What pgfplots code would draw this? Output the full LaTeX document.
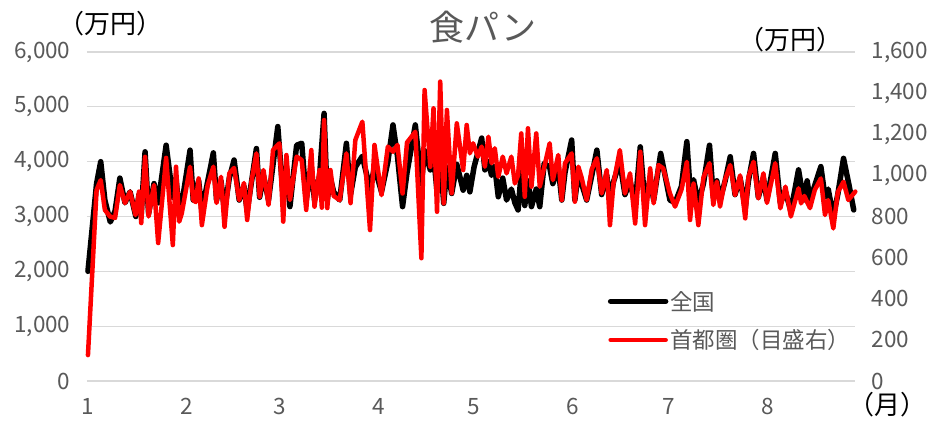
\documentclass[border=0pt]{standalone}
\usepackage{fontspec}
\setmainfont{Noto Sans CJK JP}
\usepackage{pgfplots}
\pgfplotsset{compat=1.18}
\definecolor{txtgray}{HTML}{595959}
\definecolor{gridgray}{HTML}{D9D9D9}
\definecolor{xlred}{HTML}{FF0000}

\pgfplotsset{
  common/.style={
    at={(0,0)}, anchor=south west,
    scale only axis, width=768bp, height=329bp,
    xmin=-0.3, xmax=240.4, ymin=0,
    axis line style={draw=none},
    major tick length=0pt,
    clip=false,
    scaled y ticks=false,
    /pgf/number format/assume math mode=true,
    /pgf/number format/.cd, fixed, precision=0, 1000 sep={,},
  },
}

\begin{document}
\begin{tikzpicture}
\begin{axis}[common,
  ymax=6000,
  axis y line*=left, axis x line*=bottom,
  xtick={0,31,60,91,121,152,182,213}, xticklabels={1,2,3,4,5,6,7,8},
  ytick={0,1000,...,6000},
  ymajorgrids, grid style={gridgray, line width=1.3bp},
  ticklabel style={font=\fontsize{22.5bp}{26bp}\selectfont, text=txtgray},
  xticklabel style={yshift=-14bp},
  yticklabel style={xshift=-13bp},
]
\addplot[black, line width=5.5bp, line join=round, line cap=round] coordinates {
(0,2000)(2.7,3600)(4,4000)(5.3,3300)(7,2900)(8.5,3100)(10,3700)(11.6,3250)(13.2,3450)(15,3000)(16,3400)(16.7,3050)(17.9,4180)(19,3050)(20.7,3600)(22,3250)(24.5,4300)(26.6,3350)(27.6,3700)(28.6,3100)(29.6,3300)(32,4210)(33,3300)(34.7,3650)(35.7,3100)(39.3,4160)(40.3,3300)(41.7,3650)(42.8,3100)(44.3,3700)(45.8,4030)(47.4,3300)(48.9,3550)(49.9,3100)(52.8,4240)(53.8,3350)(55,3750)(56.6,3300)(59.5,4640)(61.2,3350)(62.2,3900)(63.3,3180)(65.4,4300)(67,4335)(68.4,3300)(70,3900)(71,3300)(72.6,3750)(74,4880)(75,3300)(76,3700)(77,3450)(78.9,3300)(81,4335)(82.3,3400)(83.8,3900)(86,4100)(88.4,3500)(89.8,3900)(92,3450)(94,4000)(95.6,4670)(97,4100)(98.6,3180)(100,3800)(102.6,4670)(104.5,3600)(105.5,4200)(107.3,3850)(108.3,4150)(109.4,3450)(110.4,4100)(111.5,3240)(112.5,3900)(114,3420)(115.6,3950)(117.6,3480)(118.7,3750)(119.7,3450)(121,3900)(123.4,4430)(124.4,3850)(125.5,4000)(126.5,3750)(127.5,3910)(128.6,3360)(130,3700)(131.2,3300)(132.7,3500)(133.8,3250)(134.8,3120)(135.8,3800)(136.9,3200)(137.9,3650)(139,3180)(140.5,3500)(141.6,3180)(143,3970)(144.7,3900)(145.7,3600)(147.4,3900)(148.5,3300)(149.5,3800)(151.6,4395)(152.6,3300)(153.7,3800)(154.7,3600)(156.3,3300)(157.9,3750)(159.5,4210)(161,3400)(162.6,3750)(163.6,3250)(164.7,3630)(166.7,4000)(168.3,3400)(169.9,3650)(171.5,3200)(173.1,4270)(174.6,3200)(176.2,3700)(177.3,3300)(179.5,4150)(182.4,3300)(184,3250)(186,3550)(187.7,4365)(188.7,3500)(189.8,3670)(191.3,3250)(192.9,3600)(194.8,4300)(196,3350)(197.1,3650)(198.1,3300)(199.7,3650)(201.3,4090)(202.8,3400)(204.4,3700)(206,3150)(207,3650)(208.6,4150)(210.1,3350)(211.7,3700)(212.8,3300)(215.4,4150)(217,3250)(218.6,3450)(220.3,3100)(222.7,3850)(224.3,3300)(225.4,3650)(226.3,3300)(229.7,3910)(231,3360)(232,3500)(233.6,3000)(235,3400)(236.8,4060)(238.5,3580)(240,3120)
};
\end{axis}

\begin{axis}[common,
  ymax=1600,
  axis y line*=right, axis x line=none,
  ytick={0,200,...,1600},
  yticklabel style={font=\fontsize{22.5bp}{26bp}\selectfont, text=txtgray, xshift=13bp},
  legend style={at={(0.678,0.28)}, anchor=north west, draw=none, fill=none,
    font=\fontsize{22.5bp}{26bp}\selectfont, text=txtgray, inner sep=0pt,
    row sep=14bp, nodes={inner sep=2bp}},
  legend cell align=left,
  legend image code/.code={\draw[#1] (0bp,0bp) -- (55bp,0bp);},
]
\addlegendimage{black, line width=5.5bp, line cap=round}
\addplot[xlred, line width=4.5bp, line join=round, line cap=round] coordinates {
(0,126)(2.7,929)(4,977)(5.3,832)(6.9,800)(8.5,793)(10,953)(11.6,865)(13.2,921)(14.9,807)(16,921)(16.7,768)(17.9,1090)(19,800)(20.7,953)(22,671)(24.5,1085)(26.6,661)(27.6,1042)(28.6,775)(29.4,815)(32,1042)(33,880)(33.8,870)(34.7,985)(35.7,758)(37.5,950)(39.3,1042)(40.3,866)(41.7,993)(42.8,750)(44.3,1010)(45.8,1036)(47.4,880)(48.9,963)(49.9,783)(51.3,977)(52.8,1107)(53.8,896)(55,1026)(56.6,856)(58,1123)(60,1156)(61.2,775)(62.2,1099)(63.3,880)(65.4,1091)(67,1075)(68.4,832)(70,1123)(71,848)(72.6,1026)(73.3,843)(74,1269)(75,841)(76,1026)(77,900)(78.9,880)(81,1107)(82.3,865)(83.8,1172)(86,1261)(88.4,734)(89.8,1148)(92,904)(94,1140)(95.6,1115)(97,1148)(98.6,912)(100,1160)(102.6,1212)(104.5,597)(105.5,1415)(107.3,1042)(108.3,1326)(109.4,823)(110.4,1456)(111.5,864)(112.5,1318)(114,913)(115.6,1253)(117.6,1026)(118.7,1245)(119.7,1107)(120.7,1156)(122.2,1091)(123.4,1140)(124.4,1042)(125.5,1188)(126.5,1059)(127.5,1132)(128.6,993)(130,1091)(131.2,1010)(132.7,1091)(133.8,961)(134.8,1000)(135.8,1204)(136.9,896)(137.9,1229)(139,945)(140.5,1204)(141.6,945)(143,1040)(144.7,1156)(145.7,977)(147.4,1099)(148.5,880)(149.5,1059)(151.6,1107)(152.6,872)(153.7,1042)(154.7,990)(156.3,880)(157.9,1030)(159.5,1083)(161,912)(162.6,1026)(163.6,758)(164.7,960)(166.7,1123)(168.3,912)(169.9,1010)(171.5,766)(173.1,1115)(174.6,758)(176.2,1034)(177.3,864)(178.8,1050)(180.3,1034)(182.4,912)(184,848)(186,930)(187.7,1066)(188.7,783)(189.8,960)(191.3,758)(192.9,990)(194.8,1059)(196,856)(197.1,970)(198.1,848)(199.7,980)(201.3,1050)(202.8,904)(204.4,1000)(206,791)(207,993)(208.6,1066)(210.1,888)(211.7,1010)(212.8,866)(215.4,1059)(217,840)(218.6,945)(220.3,800)(222.7,937)(223.5,864)(224.5,900)(226.3,841)(227.8,929)(229.7,985)(231,807)(232,880)(233.6,742)(235,918)(236.8,969)(238.3,880)(240.5,921)
};
\legend{全国, 首都圏（目盛右）}
\end{axis}

\node[font=\fontsize{35bp}{40bp}\selectfont, text=txtgray] at (396bp,354bp) {食パン};
\node[font=\fontsize{26bp}{30bp}\selectfont] at (23bp,357bp) {（万円）};
\node[font=\fontsize{26bp}{30bp}\selectfont] at (703bp,341bp) {（万円）};
\node[font=\fontsize{26bp}{30bp}\selectfont, anchor=east, inner sep=0pt] at (840bp,-24bp) {（月）};

\pgfresetboundingbox
\path[use as bounding box] (-87bp,-41bp) rectangle (841bp,381bp);
\end{tikzpicture}
\end{document}
